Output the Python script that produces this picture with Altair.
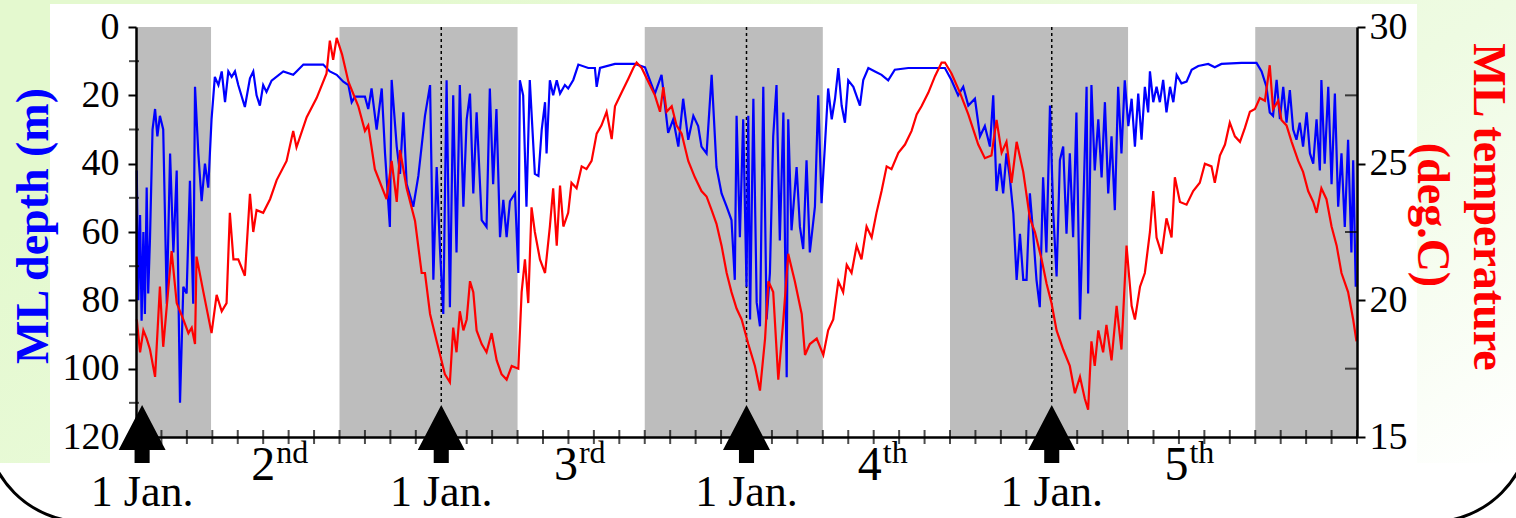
import altair as alt
import pandas as pd

# ---------------- data ----------------
# (month since 1 Jan of 1st winter, ML depth in m)
blue_pts = [
    (0.03, 42), (0.09, 80), (0.16, 55), (0.22, 86), (0.29, 60), (0.35, 84), (0.42, 47), (0.48, 78),
    (0.55, 62), (0.65, 30), (0.75, 24), (0.84, 32), (0.94, 26), (1.07, 30), (1.21, 81), (1.34, 37),
    (1.47, 66), (1.6, 42), (1.73, 110), (1.86, 76), (1.99, 78), (2.12, 45), (2.25, 81), (2.32, 17.5),
    (2.45, 37), (2.58, 51), (2.71, 40), (2.84, 47), (2.97, 27), (3.1, 14.6), (3.24, 17), (3.37, 13),
    (3.5, 22), (3.63, 13), (3.76, 14.6), (3.89, 13), (4.02, 17), (4.28, 23.4), (4.48, 15), (4.61, 13),
    (4.74, 20), (4.87, 23), (5.0, 17), (5.13, 19), (5.33, 15.7), (5.79, 13), (6.18, 14), (6.31, 13),
    (6.58, 11), (7.36, 11), (7.62, 13), (7.89, 14), (8.15, 16), (8.35, 17), (8.48, 22),
    (8.61, 20.4), (9.0, 20.4), (9.13, 24), (9.26, 18), (9.46, 30), (9.66, 18), (9.79, 37), (9.98, 58.5),
    (10.05, 15.5), (10.25, 35), (10.38, 43), (10.51, 25), (10.64, 46), (10.9, 52.6), (11.1, 43.6),
    (11.36, 26), (11.56, 17), (11.69, 74), (11.82, 41), (11.95, 65), (12.08, 84), (12.21, 15.6),
    (12.34, 82), (12.47, 20), (12.6, 66), (12.73, 17), (12.87, 52.6), (13.0, 27), (13.13, 19.5),
    (13.26, 48.7), (13.39, 25), (13.59, 56.5), (13.78, 58.5), (13.91, 18), (14.04, 46), (14.17, 24),
    (14.31, 61.5), (14.44, 50.6), (14.57, 61.5), (14.7, 51), (14.9, 48.7), (15.03, 72), (15.09, 15.6),
    (15.22, 20), (15.35, 52.6), (15.48, 15.5), (15.68, 43),
    (15.82, 43.6), (15.95, 30), (16.08, 22), (16.14, 37), (16.27, 15.6), (16.4, 20), (16.54, 15.6),
    (16.67, 19.5), (16.86, 17), (16.99, 18), (17.19, 15.5), (17.39, 11), (17.78, 12), (18.04, 12),
    (18.11, 17.5), (18.24, 12), (18.83, 10.8), (19.61, 10.8), (20.01, 11.8), (20.4, 19.5), (20.66, 14),
    (20.92, 31), (21.12, 27), (21.32, 35), (21.51, 21), (21.71, 33), (21.91, 26), (22.1, 29),
    (22.23, 35), (22.43, 37), (22.63, 14), (22.82, 41), (23.02, 48.7), (23.22, 52.6), (23.41, 56.5),
    (23.54, 74), (23.61, 26), (23.74, 61.5), (23.87, 27),
    (24.0, 76), (24.07, 26), (24.14, 85.6), (24.27, 21), (24.4, 80.6), (24.53, 87.6), (24.66, 17.5),
    (24.79, 85.6), (24.92, 72), (25.05, 32), (25.18, 17), (25.31, 62.5), (25.45, 25), (25.58, 102.5),
    (25.64, 27), (25.77, 59.5), (25.97, 41), (26.1, 58.5), (26.23, 65), (26.36, 39), (26.49, 66),
    (26.69, 52.6), (26.82, 20), (26.95, 51.6), (27.08, 35), (27.21, 18), (27.35, 27), (27.48, 21),
    (27.61, 12), (27.74, 23), (27.87, 28), (28.0, 15.6), (28.2, 17.5), (28.46, 23), (28.59, 15.5),
    (28.79, 12), (29.05, 13), (29.31, 14), (29.57, 15.6), (29.83, 12.5), (30.36, 12), (31.41, 12),
    (31.8, 12), (32.06, 15.6), (32.32, 20), (32.52, 17.5), (32.72, 23), (32.98, 21), (33.18, 32),
    (33.37, 29), (33.57, 35), (33.7, 20), (33.83, 48), (33.96, 40), (34.09, 48.7), (34.22, 37),
    (34.35, 44), (34.49, 54.6), (34.62, 74), (34.75, 60.5), (34.88, 74), (35.01, 74), (35.14, 48.7),
    (35.27, 60.5), (35.4, 74), (35.53, 82), (35.66, 44), (35.79, 66), (35.93, 23), (36.06, 54.6),
    (36.19, 73), (36.32, 39), (36.45, 35), (36.58, 60.5), (36.71, 37), (36.84, 61.5), (36.97, 25),
    (37.11, 85.6), (37.24, 52.6), (37.37, 17.5), (37.43, 78), (37.56, 17), (37.69, 42), (37.83, 27),
    (37.96, 44), (38.09, 22), (38.22, 48.7), (38.35, 32), (38.48, 53.6), (38.61, 17.5), (38.74, 37),
    (38.87, 15.6), (39.01, 29), (39.14, 21), (39.27, 35),
    (39.4, 19.5), (39.53, 33), (39.66, 17.5), (39.79, 25), (39.86, 13), (39.99, 22), (40.12, 17.5),
    (40.25, 22), (40.38, 15.5), (40.51, 25), (40.65, 17.5), (40.78, 22), (40.91, 14), (41.1, 16.5),
    (41.3, 16), (41.5, 12.5), (41.76, 11.4), (42.15, 10.8), (42.41, 11.8), (42.67, 10.8), (43.46, 10.5),
    (44.05, 10.5), (44.25, 13), (44.44, 17.5), (44.57, 25), (44.7, 26), (44.84, 15.5), (44.97, 27),
    (45.1, 17.5), (45.23, 28), (45.36, 18.5), (45.49, 30), (45.62, 33), (45.75, 28), (45.88, 35),
    (46.02, 25), (46.15, 37), (46.28, 40), (46.41, 27), (46.54, 42), (46.6, 15.5), (46.73, 40),
    (46.87, 17.5), (47.0, 46), (47.13, 19.5), (47.26, 52.6), (47.39, 37), (47.52, 58.5), (47.65, 33),
    (47.78, 66), (47.85, 39), (47.95, 76),
]

# (month, ML temperature in deg.C)
red_pts = [
    (0.03, 19.3), (0.16, 18.1), (0.29, 18.9), (0.42, 18.6), (0.55, 18.2), (0.75, 17.2), (0.94, 20.5),
    (1.07, 18.3), (1.4, 21.8), (1.6, 19.9), (1.86, 19.3), (2.06, 18.8), (2.19, 19.0), (2.32, 18.4),
    (2.38, 21.6), (2.65, 20.3), (2.97, 18.8), (3.17, 20.2), (3.37, 19.6), (3.56, 19.9), (3.69, 23.2),
    (3.83, 21.5), (4.02, 21.5), (4.28, 20.9), (4.48, 23.9), (4.61, 22.5), (4.74, 23.3), (5.0, 23.2),
    (5.27, 23.7), (5.53, 24.4), (5.92, 25.1), (6.18, 26.2), (6.31, 25.6), (6.71, 26.7), (7.1, 27.4),
    (7.49, 28.3), (7.62, 29.5), (7.75, 28.8), (7.89, 29.6),
    (8.1, 29.0), (8.35, 28.0), (8.74, 27.1), (9.0, 26.2), (9.13, 26.4), (9.39, 24.8), (9.85, 23.7),
    (10.05, 25.1), (10.25, 23.6), (10.38, 25.5), (10.64, 24.1), (10.97, 22.9), (11.23, 21.0),
    (11.36, 21.0), (11.56, 19.5), (11.82, 18.5), (12.01, 17.8), (12.14, 17.3), (12.34, 17.0),
    (12.47, 19.0), (12.6, 18.1), (12.73, 19.6), (12.87, 18.9), (13.0, 19.3), (13.13, 20.7),
    (13.26, 20.3), (13.39, 18.9), (13.59, 18.4), (13.78, 18.1), (13.98, 18.8), (14.18, 17.8),
    (14.37, 17.3), (14.57, 17.1), (14.77, 17.6), (15.03, 17.5), (15.16, 20.3), (15.29, 21.5),
    (15.42, 19.9), (15.55, 23.4), (15.68, 22.5),
    (15.88, 21.5), (16.08, 21.0), (16.27, 22.7), (16.4, 24.1), (16.54, 22.0), (16.67, 24.2),
    (16.8, 22.7), (16.99, 23.2), (17.12, 24.3), (17.32, 24.1), (17.52, 24.9), (17.71, 24.8),
    (17.91, 25.1), (18.11, 26.1), (18.3, 26.4), (18.5, 26.9), (18.7, 25.9), (18.83, 27.1),
    (19.09, 27.6), (19.35, 28.1), (19.55, 28.5), (19.68, 28.7), (19.88, 28.5), (20.14, 28.0),
    (20.4, 27.5), (20.6, 26.9), (20.73, 27.8), (20.86, 26.9), (21.06, 27.1), (21.25, 26.4),
    (21.45, 26.1), (21.71, 25.1), (21.97, 24.5), (22.23, 24.0), (22.43, 23.8), (22.63, 23.3),
    (22.82, 22.8), (23.02, 22.0), (23.22, 21.0), (23.41, 20.3), (23.61, 19.7),
    (23.81, 19.3), (24.07, 18.4), (24.33, 17.6), (24.53, 16.7), (24.73, 18.6), (24.86, 20.7),
    (25.05, 20.3), (25.25, 17.1), (25.45, 19.3), (25.64, 21.7), (25.9, 20.7), (26.17, 19.5),
    (26.3, 18.0), (26.49, 18.4), (26.76, 18.6), (27.02, 18.0), (27.21, 18.9), (27.41, 19.3),
    (27.61, 20.7), (27.8, 20.3), (27.94, 21.3), (28.13, 21.0), (28.33, 22.0), (28.52, 21.5),
    (28.72, 22.7), (28.92, 22.3), (29.11, 23.2), (29.31, 24.0), (29.51, 24.9), (29.7, 24.8),
    (29.97, 25.4), (30.23, 25.7), (30.49, 26.2), (30.69, 26.8), (30.88, 27.1), (31.15, 27.6),
    (31.41, 28.2), (31.67, 28.7),
    (31.8, 28.7), (32.06, 28.3), (32.39, 27.6), (32.72, 26.8), (33.11, 25.7), (33.37, 25.2),
    (33.63, 25.3), (33.83, 26.6), (34.03, 25.4), (34.22, 25.8), (34.42, 24.3), (34.62, 25.8),
    (34.88, 24.7), (35.14, 23.0), (35.34, 22.5), (35.6, 21.5), (35.8, 20.6), (35.99, 19.9),
    (36.19, 18.9), (36.45, 18.2), (36.71, 17.6), (36.91, 16.6), (37.11, 17.2), (37.3, 16.4),
    (37.43, 16.0), (37.56, 18.5), (37.69, 17.6), (37.83, 18.9), (38.02, 18.1), (38.15, 19.1),
    (38.35, 17.8), (38.55, 19.8), (38.74, 18.2), (38.94, 22.0), (39.14, 19.8), (39.27, 19.3),
    (39.47, 20.5), (39.66, 21.0), (39.86, 22.5), (39.99, 24.0), (40.12, 22.3), (40.32, 21.7),
    (40.51, 23.0), (40.71, 22.3), (40.84, 24.5), (41.04, 23.6), (41.3, 23.5), (41.56, 24.0),
    (41.82, 24.3), (42.02, 25.0), (42.28, 24.9), (42.41, 24.3), (42.61, 25.3), (42.81, 25.7),
    (43.0, 26.5), (43.2, 26.0), (43.4, 25.8), (43.59, 26.3), (43.79, 26.9), (43.99, 27.0),
    (44.18, 27.4), (44.38, 27.3), (44.57, 28.6), (44.7, 27.0), (44.9, 27.3), (45.03, 26.6),
    (45.23, 26.4), (45.43, 25.8), (45.69, 25.1), (45.88, 24.7), (46.08, 24.0), (46.28, 23.6),
    (46.41, 23.2), (46.6, 24.1), (46.8, 23.7), (47.0, 22.7), (47.2, 22.0), (47.39, 21.0),
    (47.65, 20.3), (47.85, 19.3), (47.98, 18.5),
]

band_start = [0.0, 8.0, 20.0, 32.0, 44.0]
band_end = [2.95, 15.0, 27.0, 39.0, 48.0]
arrow_month = [0.24, 12.0, 24.0, 36.0]
jan_line_month = [12.0, 24.0, 36.0]
jan_text = ["1 Jan.", "1 Jan.", "1 Jan.", "1 Jan."]
ord_month = [5.0, 16.9, 28.85, 40.9]
ord_num = ["2", "3", "4", "5"]
ord_sup = ["nd", "rd", "th", "th"]
month_ticks = list(range(0, 49))
depth_labels = [0, 20, 40, 60, 80, 100, 120]
depth_minor = [10, 30, 50, 70, 90, 110]
temp_labels = [15, 20, 25, 30]
temp_minor = [17.5, 22.5, 27.5]

# ---------------- chart ----------------
W, H = 1221, 410
SERIF = "Liberation Serif"
xs = alt.Scale(domain=[0, 48], nice=False, zero=False)
ds = alt.Scale(domain=[0, 120], reverse=True, nice=False, zero=False)
ts = alt.Scale(domain=[15, 30], nice=False, zero=False)
xaxis = alt.Axis(orient="bottom", domain=True, domainColor="black", domainWidth=2.5,
                 ticks=False, labels=False, grid=False, title=None, zindex=1)
laxis = alt.Axis(orient="left", values=depth_labels, tickSize=8, tickWidth=2, tickColor="black",
                 domainColor="black", domainWidth=2.5, labelFont=SERIF, labelFontSize=38,
                 labelColor="black", labelPadding=9, grid=False, title=None, zindex=1)
raxis = alt.Axis(orient="right", values=temp_labels, tickSize=8, tickWidth=2, tickColor="black",
                 domainColor="black", domainWidth=2.5, labelFont=SERIF, labelFontSize=38,
                 labelColor="black", labelPadding=4, grid=False, title=None, zindex=1)

one = pd.DataFrame({"a": [0]})
blue_df = pd.DataFrame(blue_pts, columns=["m", "d"])
red_df = pd.DataFrame(red_pts, columns=["m", "t"])
band_df = pd.DataFrame({"s": band_start, "e": band_end})

bg = alt.Chart(one).mark_rect(
    color=alt.LinearGradient(
        gradient="linear",
        stops=[alt.GradientStop(color="#e4f9cf", offset=0),
               alt.GradientStop(color="#eefbe2", offset=0.6),
               alt.GradientStop(color="#ffffff", offset=1)],
        x1=0, y1=0.5, x2=1, y2=1)
).encode(x=alt.value(-136), x2=alt.value(1380), y=alt.value(-27), y2=alt.value(436))

panel = alt.Chart(one).mark_rect(color="white").encode(
    x=alt.value(-86), x2=alt.value(1281), y=alt.value(-23), y2=alt.value(436))

border = alt.Chart(one).mark_rect(fillOpacity=0, stroke="black", strokeWidth=3, cornerRadius=100).encode(
    x=alt.value(-151), x2=alt.value(1395), y=alt.value(-300), y2=alt.value(495))

bands = alt.Chart(band_df).mark_rect(color="#bdbdbd").encode(
    x=alt.X("s:Q", scale=xs, axis=xaxis), x2="e:Q", y=alt.value(0), y2=alt.value(H))

dotted = alt.Chart(pd.DataFrame({"m": jan_line_month})).mark_rule(
    color="black", strokeWidth=1.5, strokeDash=[3, 3]).encode(
    x=alt.X("m:Q", scale=xs, axis=xaxis), y=alt.value(0), y2=alt.value(378))

blue = alt.Chart(blue_df).mark_line(color="#0000ff", strokeWidth=2.2).encode(
    x=alt.X("m:Q", scale=xs, axis=xaxis), y=alt.Y("d:Q", scale=ds, axis=laxis))
lminor = alt.Chart(pd.DataFrame({"d": depth_minor})).mark_tick(
    orient="horizontal", size=10, thickness=2, color="black").encode(
    x=alt.value(-2), y=alt.Y("d:Q", scale=ds, axis=laxis))
left_layer = alt.layer(blue, lminor)

red = alt.Chart(red_df).mark_line(color="#ff0000", strokeWidth=2.2).encode(
    x=alt.X("m:Q", scale=xs, axis=xaxis), y=alt.Y("t:Q", scale=ts, axis=raxis))
rminor = alt.Chart(pd.DataFrame({"t": temp_minor})).mark_tick(
    orient="horizontal", size=12, thickness=2, color="black").encode(
    x=alt.value(W - 6), y=alt.Y("t:Q", scale=ts, axis=raxis))
right_layer = alt.layer(red, rminor)

xticks = alt.Chart(pd.DataFrame({"m": month_ticks})).mark_tick(
    orient="vertical", size=14, thickness=2, color="black").encode(
    x=alt.X("m:Q", scale=xs, axis=xaxis), y=alt.value(H))

arrow_shape = "M0,-1L0.81,0.55L0.26,0.55L0.26,1L-0.26,1L-0.26,0.55L-0.81,0.55Z"
arrows = alt.Chart(pd.DataFrame({"m": arrow_month})).mark_point(
    shape=arrow_shape, size=3364, filled=True, color="black", opacity=1, strokeWidth=0).encode(
    x=alt.X("m:Q", scale=xs, axis=xaxis), y=alt.value(407))

jan = alt.Chart(pd.DataFrame({"m": arrow_month, "t": jan_text})).mark_text(
    font=SERIF, fontSize=44, color="black", align="center", baseline="alphabetic").encode(
    x=alt.X("m:Q", scale=xs, axis=xaxis), y=alt.value(479), text="t:N")

ord_df = pd.DataFrame({"m": ord_month, "n": ord_num, "s": ord_sup})
ordn = alt.Chart(ord_df).mark_text(
    font=SERIF, fontSize=48, color="black", align="center", baseline="alphabetic").encode(
    x=alt.X("m:Q", scale=xs, axis=xaxis), y=alt.value(453), text="n:N")
ords = alt.Chart(ord_df).mark_text(
    font=SERIF, fontSize=32, color="black", align="left", baseline="alphabetic", dx=13).encode(
    x=alt.X("m:Q", scale=xs, axis=xaxis), y=alt.value(436), text="s:N")

ltitle = alt.Chart(one).mark_text(
    font=SERIF, fontSize=46, fontWeight="bold", color="#0000ff", angle=270,
    align="center", baseline="middle").encode(
    x=alt.value(-102), y=alt.value(199), text=alt.value("ML depth (m)"))
rtitle1 = alt.Chart(one).mark_text(
    font=SERIF, fontSize=46, fontWeight="bold", color="#ff0000", angle=90,
    align="center", baseline="middle").encode(
    x=alt.value(1352), y=alt.value(180), text=alt.value("ML temperature"))
rtitle2 = alt.Chart(one).mark_text(
    font=SERIF, fontSize=46, fontWeight="bold", color="#ff0000", angle=90,
    align="center", baseline="middle").encode(
    x=alt.value(1296), y=alt.value(188), text=alt.value("(deg.C)"))

chart = alt.layer(
    bg, panel, border, bands, dotted, left_layer, right_layer, xticks, arrows,
    jan, ordn, ords, ltitle, rtitle1, rtitle2
).resolve_scale(y="independent").properties(
    width=W, height=H,
    padding={"left": 136, "top": 27, "right": 159, "bottom": 81},
    autosize=alt.AutoSizeParams(type="none"),
    background="white",
).configure_view(strokeWidth=0)

chart.save("out.html", embed_options={"renderer": "svg", "actions": False})
